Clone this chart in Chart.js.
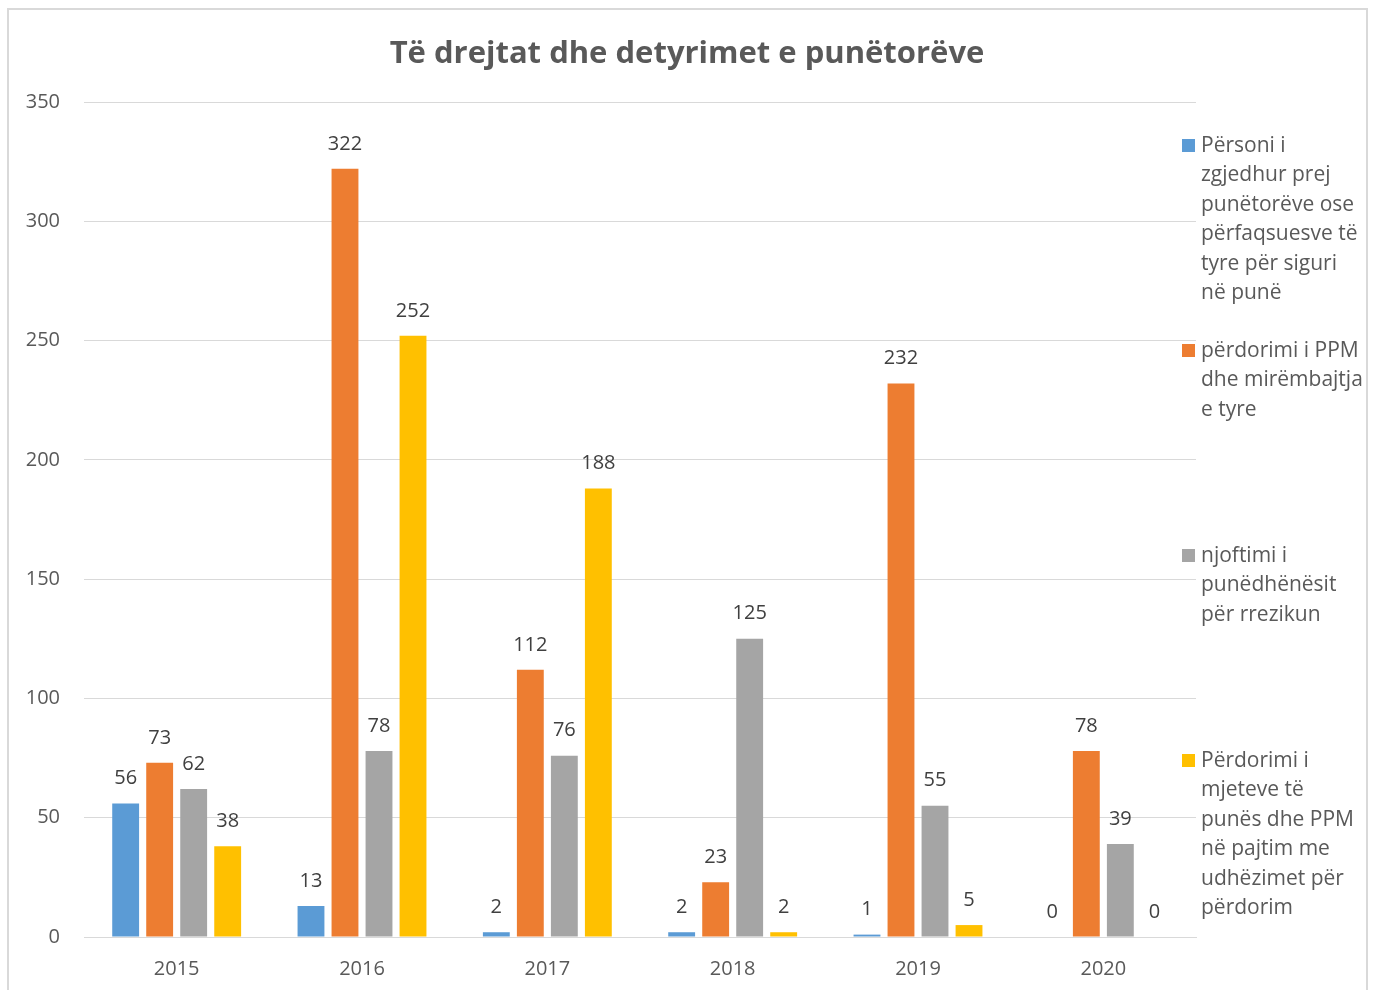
<!DOCTYPE html>
<html>
<head>
<meta charset="utf-8">
<script src="https://cdn.jsdelivr.net/npm/chart.js@4/dist/chart.umd.min.js"></script>
<style>
  html, body { margin: 0; padding: 0; background: #ffffff; }
  #wrap { position: relative; width: 1373px; height: 990px; }
  canvas { display: block; }
</style>
</head>
<body>
<div id="wrap"><canvas id="c" width="1373" height="990"></canvas></div>
<script>
// ---- Data ----
const chartTitle = "Të drejtat dhe detyrimet e punëtorëve";
const categories = ["2015", "2016", "2017", "2018", "2019", "2020"];
const seriesNames = [
  "Përsoni i zgjedhur prej punëtorëve ose përfaqsuesve të tyre për siguri në punë",
  "përdorimi i PPM dhe mirëmbajtja e tyre",
  "njoftimi i punëdhënësit për rrezikun",
  "Përdorimi i mjeteve të punës dhe PPM në pajtim me udhëzimet për përdorim"
];
const legendLines = [
  ["Përsoni i", "zgjedhur prej", "punëtorëve ose", "përfaqsuesve të", "tyre për siguri", "në punë"],
  ["përdorimi i PPM", "dhe mirëmbajtja", "e tyre"],
  ["njoftimi i", "punëdhënësit", "për rrezikun"],
  ["Përdorimi i", "mjeteve të", "punës dhe PPM", "në pajtim me", "udhëzimet për", "përdorim"]
];
const seriesPersoni = [56, 13, 2, 2, 1, 0];
const seriesPPM = [73, 322, 112, 23, 232, 78];
const seriesNjoftimi = [62, 78, 76, 125, 55, 39];
const seriesMjetet = [38, 252, 188, 2, 5, 0];
const yTicks = [0, 50, 100, 150, 200, 250, 300, 350];

const colors = ["#5B9BD5", "#ED7D31", "#A5A5A5", "#FFC000"];
const FONT = "'Open Sans', 'DejaVu Sans', sans-serif";

const seriesValues = [seriesPersoni, seriesPPM, seriesNjoftimi, seriesMjetet];

const decorPlugin = {
  id: 'decor',
  beforeDraw(chart) {
    const ctx = chart.ctx;
    ctx.save();
    ctx.fillStyle = '#ffffff';
    ctx.fillRect(0, 0, chart.width, chart.height);
    ctx.strokeStyle = '#d9d9d9';
    ctx.lineWidth = 2;
    ctx.beginPath();
    ctx.moveTo(8, 1000);
    ctx.lineTo(8, 9);
    ctx.lineTo(1367, 9);
    ctx.lineTo(1367, 1000);
    ctx.stroke();
    ctx.restore();
  },
  afterDraw(chart) {
    const ctx = chart.ctx;
    ctx.save();
    // title
    ctx.font = "bold 31px " + FONT;
    ctx.fillStyle = '#595959';
    ctx.textAlign = 'center';
    ctx.textBaseline = 'middle';
    ctx.fillText(chartTitle, 687, 54);
    // data labels
    ctx.font = "20px " + FONT;
    ctx.fillStyle = '#404040';
    chart.data.datasets.forEach((ds, di) => {
      const meta = chart.getDatasetMeta(di);
      meta.data.forEach((bar, i) => {
        ctx.fillText(String(ds.data[i]), bar.x, bar.y - 25);
      });
    });
    // legend
    ctx.textAlign = 'left';
    ctx.font = "21px " + FONT;
    legendLines.forEach((lines, k) => {
      const y0 = 146 + k * 205;
      ctx.fillStyle = colors[k];
      ctx.fillRect(1182, y0 - 7, 13, 13);
      ctx.fillStyle = '#595959';
      lines.forEach((ln, j) => {
        ctx.fillText(ln, 1201, y0 + j * 29.5);
      });
    });
    ctx.restore();
  }
};

new Chart(document.getElementById('c'), {
  type: 'bar',
  data: {
    labels: categories,
    datasets: seriesNames.map((name, i) => ({
      label: name,
      data: seriesValues[i],
      backgroundColor: colors[i],
      borderWidth: 0,
      categoryPercentage: 0.734,
      barPercentage: 0.79
    }))
  },
  options: {
    responsive: false,
    animation: false,
    devicePixelRatio: 1,
    layout: { padding: { top: 102, right: 177, bottom: 0, left: 0 } },
    plugins: {
      legend: { display: false },
      title: { display: false },
      tooltip: { enabled: false }
    },
    scales: {
      x: {
        grid: { display: false },
        border: { display: true, color: '#d9d9d9', width: 1 },
        ticks: { color: '#595959', font: { family: FONT, size: 20 }, padding: 12 },
        afterFit(scale) { scale.height = 53; }
      },
      y: {
        min: 0,
        max: 350,
        afterBuildTicks(scale) { scale.ticks = yTicks.map(v => ({ value: v })); },
        grid: { color: '#d9d9d9', lineWidth: 1, drawTicks: false },
        border: { display: false },
        ticks: { color: '#595959', font: { family: FONT, size: 20 }, padding: 24 },
        afterFit(scale) { scale.width = 84; }
      }
    }
  },
  plugins: [decorPlugin]
});
</script>
</body>
</html>
